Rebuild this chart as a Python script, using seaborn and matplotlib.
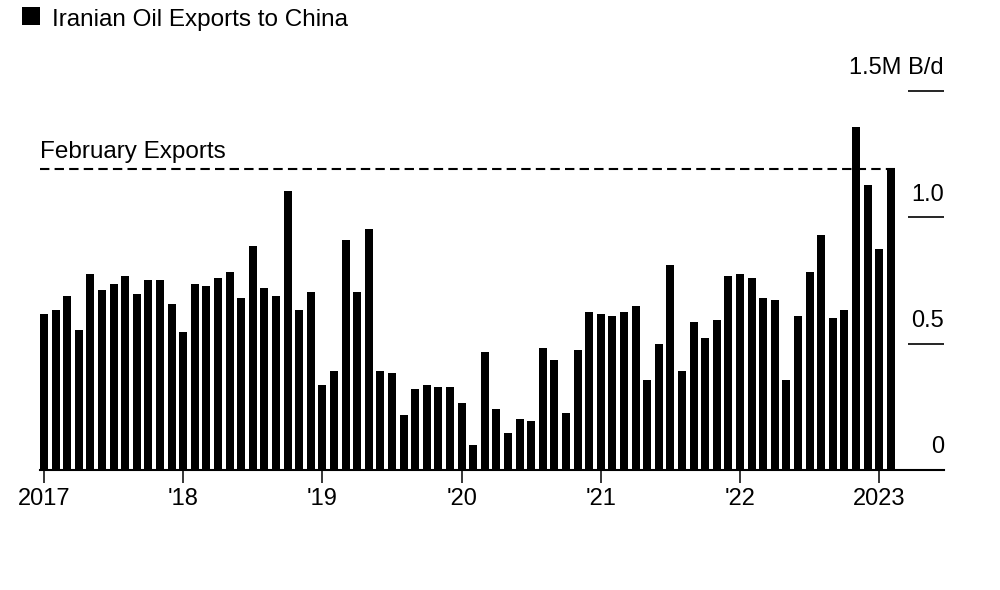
import matplotlib
matplotlib.use("Agg")
import matplotlib.pyplot as plt
from matplotlib.patches import Rectangle
import seaborn as sns
import pandas as pd

# ---- data (million barrels per day) ----
months = pd.date_range("2017-01-01", periods=74, freq="MS").strftime("%Y-%m").tolist()
exports = [
    0.617, 0.632, 0.688, 0.553, 0.775, 0.711, 0.735, 0.767, 0.696, 0.751, 0.751, 0.656,  # 2017
    0.545, 0.735, 0.727, 0.759, 0.783, 0.680, 0.885, 0.719, 0.688, 1.104, 0.632, 0.704,  # 2018
    0.335, 0.390, 0.909, 0.704, 0.955, 0.390, 0.382, 0.216, 0.319, 0.335, 0.327, 0.327,  # 2019
    0.264, 0.099, 0.468, 0.241, 0.146, 0.202, 0.194, 0.484, 0.437, 0.224, 0.476, 0.625,  # 2020
    0.617, 0.609, 0.625, 0.648, 0.358, 0.499, 0.813, 0.390, 0.585, 0.523, 0.593, 0.767,  # 2021
    0.775, 0.759, 0.680, 0.672, 0.358, 0.609, 0.783, 0.931, 0.601, 0.632, 1.357, 1.126,  # 2022
    0.876, 1.192,                                                                        # 2023
]
xtick_months = ["2017-01", "2018-01", "2019-01", "2020-01", "2021-01", "2022-01", "2023-01"]
xtick_labels = ["2017", "'18", "'19", "'20", "'21", "'22", "2023"]
ytick_values = [1.5, 1.0, 0.5, 0.0]
ytick_labels = ["1.5M B/d", "1.0", "0.5", "0"]
title = "Iranian Oil Exports to China"
annotation = "February Exports"

df = pd.DataFrame({"month": months, "exports": exports})

sns.set_theme(style="white")
plt.rcParams["font.family"] = ["Liberation Sans", "DejaVu Sans"]

W, H = 1000, 590
fig = plt.figure(figsize=(W / 100, H / 100), dpi=100)
# axes: left x=40px, right x=944px, top y=91px, bottom y=470px
ax = fig.add_axes([40 / W, (H - 470) / H, 904 / W, (470 - 91) / H])

bar_w = 0.7
sns.barplot(data=df, x="month", y="exports", color="black", saturation=1,
            width=bar_w, edgecolor="none", linewidth=0, ax=ax)

n = len(months)
ax.set_xlim(-0.345, 77.59)
ax.set_ylim(0, 1.5)

for s in ["top", "right", "left"]:
    ax.spines[s].set_visible(False)
ax.spines["bottom"].set_linewidth(1.5)
ax.spines["bottom"].set_color("black")

ax.set_xlabel("")
ax.set_ylabel("")
ax.set_yticks([])
ax.set_xticks([months.index(m) for m in xtick_months])
ax.set_xticklabels(xtick_labels, fontsize=17, color="black")
ax.tick_params(axis="x", direction="out", length=9, width=1.1, color="black",
               pad=4, bottom=True)

# right-side y "ticks": short lines with labels above
ytr = ax.get_yaxis_transform()
for v, lab in zip(ytick_values, ytick_labels):
    if v > 0:
        ax.plot([0.96, 1.0], [v, v], transform=ytr, color="black", lw=1.2,
                clip_on=False, solid_capstyle="butt")
    ax.annotate(lab, xy=(1.0, v), xycoords=ytr, xytext=(0, 12),
                textcoords="offset points", ha="right", va="baseline",
                fontsize=17, color="black")

# February exports reference line
feb = exports[-1]
ax.hlines(feb, ax.get_xlim()[0], (n - 1) + bar_w / 2, colors="black",
          linestyles=(0, (4.5, 2.5)), linewidth=1.5, clip_on=False)
ax.annotate(annotation, xy=(0.0, feb), xycoords=ytr, xytext=(0, 8),
            textcoords="offset points", ha="left", va="baseline",
            fontsize=17.5, color="black")

# title with black square key
fig.patches.append(Rectangle((22 / W, (H - 25) / H), 18 / W, 18 / H,
                             transform=fig.transFigure, facecolor="black",
                             edgecolor="none"))
fig.text(52 / W, (H - 26) / H, title, fontsize=17.5, color="black",
         ha="left", va="baseline")

fig.savefig("out.png", dpi=100, facecolor="white")
